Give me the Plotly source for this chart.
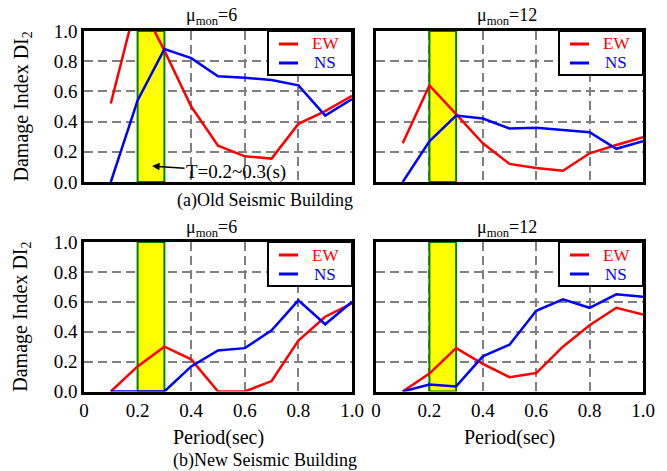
import plotly.graph_objects as go

# ---------------- data ----------------
periods = [0.1, 0.2, 0.3, 0.4, 0.5, 0.6, 0.7, 0.8, 0.9, 1.0]

old_mu6_ew = [0.52, 1.22, 0.87, 0.50, 0.24, 0.17, 0.155, 0.385, 0.47, 0.57]
old_mu6_ns = [0.0, 0.54, 0.88, 0.82, 0.70, 0.69, 0.675, 0.64, 0.44, 0.55]
old_mu12_ew = [0.256, 0.64, 0.45, 0.256, 0.12, 0.093, 0.075, 0.19, 0.245, 0.296]
old_mu12_ns = [0.0, 0.27, 0.44, 0.42, 0.355, 0.36, 0.345, 0.33, 0.22, 0.27]
new_mu6_ew = [0.0, 0.168, 0.30, 0.215, 0.0, 0.0, 0.07, 0.34, 0.50, 0.59]
new_mu6_ns = [0.0, 0.0, 0.0, 0.168, 0.275, 0.29, 0.41, 0.61, 0.45, 0.60]
new_mu12_ew = [0.0, 0.12, 0.29, 0.185, 0.096, 0.123, 0.30, 0.443, 0.56, 0.515]
new_mu12_ns = [0.0, 0.047, 0.034, 0.235, 0.313, 0.54, 0.617, 0.56, 0.65, 0.633]

band_range = [0.2, 0.3]

x_tickvals = [0, 0.2, 0.4, 0.6, 0.8, 1.0]
x_ticktext = ["0", "0.2", "0.4", "0.6", "0.8", "1.0"]
y_tickvals = [0, 0.2, 0.4, 0.6, 0.8, 1.0]
y_ticktext = ["0.0", "0.2", "0.4", "0.6", "0.8", "1.0"]

series_names = ["EW", "NS"]
panel_titles = ["μ<sub>mon</sub>=6", "μ<sub>mon</sub>=12", "μ<sub>mon</sub>=6", "μ<sub>mon</sub>=12"]
captions = ["(a)Old Seismic Building", "(b)New Seismic Building"]
x_title = "Period(sec)"
y_title = "Damage Index DI<sub>2</sub>"
band_label = "T=0.2~0.3(s)"

# ---------------- layout geometry ----------------
W, H = 667, 471
FONT = "Liberation Serif, Times New Roman, serif"
RED = "rgb(255,0,0)"
BLUE = "rgb(0,0,255)"
COLORS = [RED, BLUE]


def px(xp):
    return xp / W


def py(yp):
    return 1 - yp / H


x_domains = [[px(84), px(352)], [px(376), px(643)]]
y_domains = [[py(182), py(31)], [py(391.5), py(242)]]
title_centers = [px(211), px(507)]

panels = [
    (old_mu6_ew, old_mu6_ns, 0, 0),
    (old_mu12_ew, old_mu12_ns, 1, 0),
    (new_mu6_ew, new_mu6_ns, 0, 1),
    (new_mu12_ew, new_mu12_ns, 1, 1),
]

fig = go.Figure()
layout = dict(
    width=W, height=H, autosize=False,
    margin=dict(l=0, r=0, t=0, b=0, pad=0),
    paper_bgcolor="white", plot_bgcolor="white",
    font=dict(family=FONT, size=18, color="black"),
    showlegend=False,
)
annotations = []
shapes = []

for i, (ew, ns, col, row) in enumerate(panels):
    n = i + 1
    xa = "x" if n == 1 else f"x{n}"
    ya = "y" if n == 1 else f"y{n}"

    # shaded period band T = 0.2 ~ 0.3 s (filled trace: above grid, below lines)
    bx = [band_range[0], band_range[1], band_range[1], band_range[0], band_range[0]]
    by = [0, 0, 1, 1, 0]
    fig.add_trace(go.Scatter(x=bx, y=by, mode="lines", fill="toself", fillcolor="rgb(255,255,0)",
                             line=dict(color="rgb(0,128,0)", width=2), xaxis=xa, yaxis=ya,
                             showlegend=False, hoverinfo="skip"))

    for vals, name, colr in zip([ew, ns], series_names, COLORS):
        fig.add_trace(go.Scatter(x=periods, y=vals, mode="lines", name=name,
                                 line=dict(color=colr, width=2.5), xaxis=xa, yaxis=ya))

    axis_common = dict(
        showline=True, mirror=True, linecolor="black", linewidth=2.5,
        showgrid=True, gridcolor="rgb(128,128,128)", gridwidth=1.8, griddash="9px,5px",
        zeroline=False, ticks="", automargin=False, fixedrange=True,
        tickfont=dict(family=FONT, size=19, color="black"),
    )
    layout["xaxis" if n == 1 else f"xaxis{n}"] = dict(
        axis_common, domain=x_domains[col], range=[0, 1.0], anchor=ya,
        tickvals=x_tickvals, ticktext=x_ticktext, showticklabels=(row == 1),
    )
    layout["yaxis" if n == 1 else f"yaxis{n}"] = dict(
        axis_common, domain=y_domains[row], range=[0, 1.0], anchor=xa,
        tickvals=y_tickvals, ticktext=y_ticktext, showticklabels=(col == 0),
    )

    # legend box in the upper-right corner of each panel
    right_px = 352 if col == 0 else 643
    top_px = 31 if row == 0 else 242
    shapes.append(dict(type="rect", xref="paper", yref="paper",
                       x0=px(right_px - 84), x1=px(right_px), y0=py(top_px + 44), y1=py(top_px),
                       fillcolor="white", line=dict(color="black", width=2), layer="above"))
    for k, (name, colr) in enumerate(zip(series_names, COLORS)):
        yy = top_px + 13 + 19 * k
        shapes.append(dict(type="line", xref="paper", yref="paper",
                           x0=px(right_px - 73), x1=px(right_px - 54), y0=py(yy), y1=py(yy),
                           line=dict(color=colr, width=3), layer="above"))
        annotations.append(dict(text=name, x=px(right_px - 27), y=py(yy), xref="paper", yref="paper",
                                xanchor="center", yanchor="middle", showarrow=False,
                                font=dict(family=FONT, size=17, color=colr)))

    annotations.append(dict(
        text=panel_titles[i], x=title_centers[col],
        y=py(17) if row == 0 else py(228), xref="paper", yref="paper",
        xanchor="center", yanchor="middle", showarrow=False, font=dict(family=FONT, size=18),
    ))

for row in range(2):
    annotations.append(dict(
        text=y_title, textangle=-90, x=px(22), y=(y_domains[row][0] + y_domains[row][1]) / 2,
        xref="paper", yref="paper", xanchor="center", yanchor="middle", showarrow=False,
        font=dict(family=FONT, size=20),
    ))
    annotations.append(dict(
        text=captions[row], x=px(265), y=py(200) if row == 0 else py(460),
        xref="paper", yref="paper", xanchor="center", yanchor="middle", showarrow=False,
        font=dict(family=FONT, size=18),
    ))

for col in range(2):
    annotations.append(dict(
        text=x_title, x=(x_domains[col][0] + x_domains[col][1]) / 2, y=py(437),
        xref="paper", yref="paper", xanchor="center", yanchor="middle", showarrow=False,
        font=dict(family=FONT, size=20),
    ))

annotations.append(dict(
    text=band_label, x=0.254, y=0.106, xref="x", yref="y",
    ax=84, ay=6, showarrow=True, arrowhead=2, arrowsize=1, arrowwidth=1.5, arrowcolor="black",
    font=dict(family=FONT, size=19),
))

layout["annotations"] = annotations
layout["shapes"] = shapes
fig.update_layout(**layout)

fig.write_html("out.html", config={"displayModeBar": False},
               post_script="document.body.style.margin='0px';")
